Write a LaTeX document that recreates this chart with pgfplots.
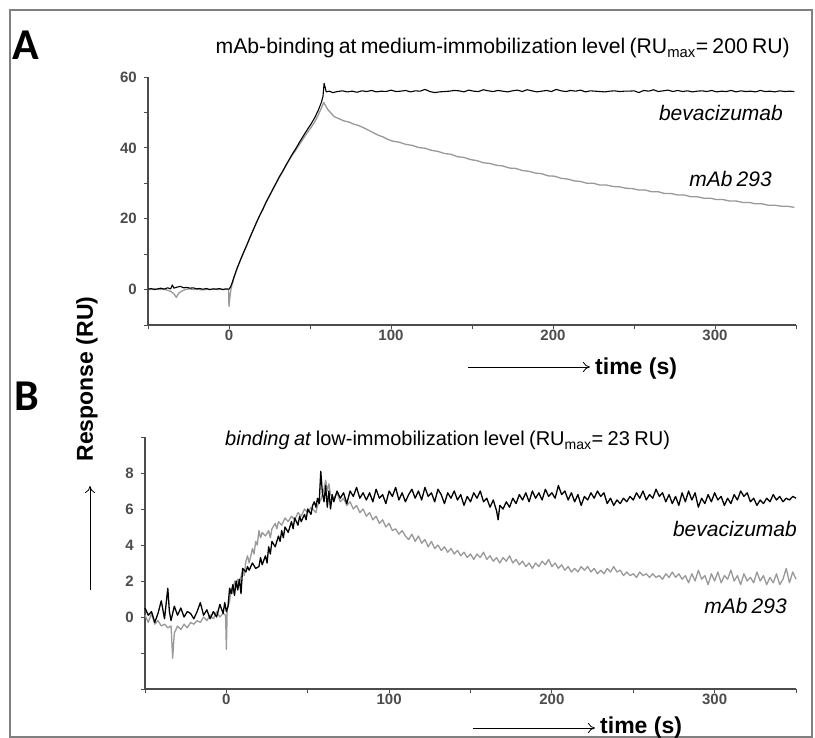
\documentclass[border=0pt]{standalone}
\usepackage{fontspec}
\setmainfont{Liberation Sans}
\newfontfamily\carlito{Carlito}
\usepackage{pgfplots}
\usetikzlibrary{arrows.meta}
\pgfplotsset{compat=1.18}
\definecolor{axgray}{gray}{0.3}
\definecolor{cgray}{gray}{0.6}
\newcommand{\tl}[1]{\textbf{#1}}
\newcommand{\tight}{\spaceskip=0.2em\relax}
\pgfplotsset{myax/.style={
  scale only axis, axis x line*=bottom, axis y line*=left,
  axis line style={axgray, line width=1.3pt, -},
  tick style={axgray, line width=1pt}, tick align=outside, major tick length=4pt,
  xmin=-50, xmax=350, xtick={-50,0,...,350}, xticklabels={,\tl{0},,\tl{100},,\tl{200},,\tl{300},},
  ticklabel style={font=\fontsize{15}{15}\selectfont, text=axgray},
  xticklabel style={inner sep=1pt},
  yticklabel style={inner sep=1pt, xshift=-6pt},
  clip=false}}
\begin{document}
\begin{tikzpicture}
\useasboundingbox (0,0) rectangle (815pt,-738pt);
\fill[white] (0,0) rectangle (815pt,-738pt);
\draw[gray, line width=1.2pt] (10pt,-737pt) -- (10pt,-10pt) -- (812pt,-10pt) -- (812pt,-737pt) -- cycle;

\begin{axis}[myax, at={(148pt,-325pt)}, anchor=south west, width=648pt, height=248pt,
  ymin=-10, ymax=60, ytick={-10,0,...,60}, yticklabels={,\tl{0},,\tl{20},,\tl{40},,\tl{60}}]
\addplot[cgray, line width=1.3pt, line join=round] coordinates {
(-50,0.1)(-48,0.0)(-46,0.2)(-44,0.1)(-42,0.0)(-40,0.2)(-38,-0.2)(-36,-0.5)(-34,-1.2)(-32.5,-2.2)(-31,-1.0)(-29,-0.4)(-27,0.0)(-25,0.2)(-23,0.1)(-21,0.0)(-19,0.1)(-17,-0.1)(-15,0.0)(-13,0.1)(-11,0.0)(-9,0.2)(-7,0.0)(-5,0.1)(-3,0.0)(-1,0.1)(-0.3,0.0)(0,-4.8)(0.7,-1.5)(1.4,0.6)(2.5,2.2)
(3,3.3)(5,6.0)(7,8.3)(9,10.4)(11,12.5)(13,14.7)(15,16.8)(17,18.9)(19,20.9)(21,22.7)(23,24.7)(25,26.4)(27,28.2)(29,29.9)(31,31.6)(33,33.2)(35,34.8)(37,36.4)(39,37.9)(41,39.2)(43,40.6)(45,42.0)(47,43.4)(49,44.7)(51,46.0)(53,47.4)(55,49.2)(57,51.2)(58.5,52.8)(59.5,52.0)(61,50.8)(63,49.8)(65,48.8)(68,48.2)(71,47.6)(74,47.3)(77,46.7)(80,46.3)(83,45.7)(86,45.0)(89,44.3)(92,43.6)(95,43.1)(98,42.4)(101,41.9)
(105,41.6)(109,41.0)(113,40.7)(117,40.1)(121,39.9)(125,39.3)(129,39.0)(133,38.4)(137,38.2)(141,37.5)(145,37.3)(149,36.7)(153,36.4)(157,35.8)(161,35.6)(165,35.1)(169,34.9)(173,34.3)(177,34.2)(181,33.6)(185,33.4)(189,32.9)(193,32.7)(197,32.1)(201,32.0)(205,31.4)(209,31.2)(213,30.7)(217,30.5)(221,30.0)(225,30.0)(229,29.5)(233,29.5)(237,29.1)(241,29.0)(245,28.6)(249,28.5)(253,28.1)(257,28.1)(261,27.6)(265,27.6)(269,27.1)(273,27.1)(277,26.7)(281,26.7)(285,26.2)(289,26.2)(293,25.8)(297,25.8)(301,25.4)(305,25.4)(309,25.0)(313,25.0)(317,24.6)(321,24.6)(325,24.2)(329,24.2)(333,23.8)(337,23.8)(341,23.5)(345,23.5)(349,23.2)};
\addplot[black, line width=1.1pt, line join=round] coordinates {
(-50,0.1)(-48,0.3)(-46,0.0)(-44,0.2)(-42,0.4)(-40,0.1)(-38,0.5)(-36,0.2)(-35,1.3)(-34,0.4)(-32,0.7)(-30,0.9)(-28,0.5)(-26,0.6)(-24,0.4)(-22,0.5)(-20,0.2)(-18,0.3)(-16,0.1)(-14,0.3)(-12,0.0)(-10,0.2)(-8,0.1)(-6,0.3)(-4,0.0)(-2,0.2)(0,0.1)
(1,0.8)(2,2.0)(3,3.4)(5,6.0)(7,8.3)(9,10.5)(11,12.6)(13,14.8)(15,16.9)(17,19.0)(19,21.0)(21,22.8)(23,24.8)(25,26.5)(27,28.3)(29,30.0)(31,31.8)(33,33.3)(35,35.0)(37,36.6)(39,38.2)(41,39.6)(43,41.2)(45,42.7)(47,44.2)(49,45.6)(51,47.0)(53,48.6)(55,50.5)(57,52.8)(58,54.5)(58.7,58.2)(59.4,57.0)(60,55.8)
(62,56.0)(64,55.6)(67,55.9)(70,56.1)(73,55.8)(76,56.0)(79,55.7)(82,56.1)(85,55.9)(88,56.2)(91,55.8)(94,56.0)(97,55.9)(100,56.3)(103,55.9)(106,56.0)(109,56.2)(112,55.8)(115,56.1)(118,56.0)(121,56.5)(124,55.9)(127,55.6)(130,55.8)(133,55.9)(136,56.0)(139,56.2)(142,56.1)(145,55.8)(148,56.3)(151,56.0)(154,55.9)(157,56.4)(160,56.1)(163,55.9)(166,56.2)(169,56.0)(172,55.8)(175,56.1)(178,56.3)(181,55.9)(184,56.4)(187,56.1)(190,55.8)(193,56.0)(196,56.2)(199,55.9)(202,56.5)(205,56.1)(208,55.9)(211,56.2)(214,56.0)(217,56.3)(220,55.8)(223,56.1)(226,56.0)(229,55.9)(232,55.8)(235,56.0)(238,56.1)(241,55.9)(244,56.0)(247,56.0)(250,56.1)(253,55.6)(256,56.2)(259,56.0)(262,56.4)(265,55.9)(268,56.1)(271,56.3)(274,55.9)(277,56.2)(280,55.9)(283,56.1)(286,55.8)(289,56.0)(292,56.1)(295,55.9)(298,56.2)(301,55.8)(304,56.0)(307,55.9)(310,56.2)(313,55.8)(316,56.1)(319,55.9)(322,56.0)(325,55.8)(328,56.2)(331,55.9)(334,56.0)(337,55.8)(340,56.1)(343,55.9)(346,56.0)(349,55.9)};
\end{axis}

\begin{axis}[myax, at={(145pt,-689pt)}, anchor=south west, width=651pt, height=252pt,
  ymin=-4, ymax=10, ytick={-4,-2,...,10}, yticklabels={,,\tl{0},\tl{2},\tl{4},\tl{6},\tl{8},}]
\addplot[cgray, line width=1.3pt, line join=round] coordinates {
(-50,0.1)(-48,-0.3)(-46,0.2)(-44,-0.4)(-42,-0.2)(-40,-0.5)(-38,-0.4)(-36,-0.6)(-34,-0.5)(-33,-2.3)(-32,-0.9)(-30,-0.5)(-28,-0.7)(-26,-0.4)(-24,-0.6)(-22,-0.3)(-20,-0.4)(-18,-0.2)(-16,-0.3)(-14,0.0)(-12,-0.2)(-10,0.1)(-8,-0.1)(-6,0.3)(-4,0.0)(-2,0.2)(-0.5,0.1)(0,-1.8)(0.5,0.4)
(2,0.9)(3,1.6)(4,1.3)(5,2.0)(6,1.7)(7,2.1)(8,1.9)(10,2.6)(11,2.3)(12,3.1)(13,3.4)(14,3.0)(16,3.8)(17,3.5)(18,4.2)(19,4.0)(20,4.8)(21,4.4)(22,4.7)(24,4.5)(26,4.8)(27,4.4)(28,4.9)(30,5.2)(31,4.9)(32,5.3)(34,5.1)(36,5.5)(38,5.3)(40,5.6)(42,5.4)(44,5.8)(46,5.6)(48,6.0)(50,5.8)(52,6.1)(54,5.9)(55,5.8)(56,6.2)(58,6.5)(60,7.1)(61,7.6)(62,7.0)(63,7.4)(64,6.8)(66,6.6)(68,6.9)(70,6.4)(72,6.6)(74,6.2)(76,6.4)(78,6.0)(80,6.2)(82,5.8)(84,6.0)(86,5.6)(88,5.8)(90,5.4)(92,5.6)(94,5.2)(96,5.4)(98,5.0)(100,5.2)
(102,4.8)(104,4.9)(106,4.6)(108,4.8)(110,4.5)(112,4.3)(114,4.6)(116,4.2)(118,4.5)(120,4.1)(122,4.3)(124,3.9)(126,4.2)(128,3.8)(130,4.0)(132,3.7)(134,3.9)(136,3.6)(138,3.8)(140,3.5)(142,3.7)(144,3.4)(146,3.6)(148,3.3)(150,3.5)(152,3.2)(154,3.5)(156,3.3)(158,3.6)(160,3.2)(162,3.4)(164,3.1)(166,3.3)(168,3.0)(170,3.3)(172,3.1)(174,3.4)(176,3.0)(178,3.2)(180,2.9)(182,3.1)(184,2.8)(186,3.0)(188,2.7)(190,3.0)(192,2.8)(194,3.1)(196,2.9)(198,3.2)(200,2.8)
(202,3.0)(204,2.7)(206,2.9)(208,2.6)(210,2.8)(212,2.5)(214,2.7)(216,2.5)(218,2.8)(220,2.6)(222,2.8)(224,2.5)(226,2.7)(228,2.4)(230,2.6)(232,2.4)(234,2.7)(236,2.5)(238,2.8)(240,2.5)(242,2.6)(244,2.3)(246,2.5)(248,2.3)(250,2.4)(252,2.2)(254,2.5)(256,2.3)(258,2.4)(260,2.2)(262,2.4)(264,2.2)(266,2.3)(268,2.1)(270,2.4)(272,2.2)(274,2.5)(276,2.2)(278,2.4)(280,2.1)(282,2.3)(284,1.9)(286,2.4)(288,2.0)(290,2.6)(292,2.1)(294,2.3)(296,1.8)(298,2.4)(300,2.0)
(302,2.5)(304,1.9)(306,2.3)(308,2.1)(310,2.6)(312,2.0)(314,2.3)(316,1.8)(318,2.4)(320,2.0)(322,2.2)(324,1.9)(326,2.5)(328,2.0)(330,2.3)(332,1.8)(334,2.2)(336,1.9)(338,2.4)(340,1.8)(342,2.1)(344,2.7)(346,1.9)(348,2.5)(350,2.1)};
\addplot[black, line width=1.3pt, line join=round] coordinates {
(-50,0.5)(-48,0.1)(-46,0.3)(-44,-0.3)(-42,0.2)(-40,0.9)(-38,-0.1)(-36,1.6)(-35,0.3)(-34,-0.2)(-32,0.6)(-30,0.1)(-28,0.5)(-26,0.0)(-24,0.3)(-22,0.2)(-20,-0.1)(-18,0.3)(-16,0.8)(-14,0.1)(-12,0.4)(-10,-0.1)(-8,0.3)(-6,0.0)(-4,0.7)(-2,0.2)(-1,0.8)(0,0.3)
(1,0.6)(2,1.6)(3,1.3)(4,1.8)(5,1.2)(6,2.0)(7,1.5)(8,2.1)(9,1.3)(10,2.7)(12,2.5)(13,2.8)(14,2.6)(16,3.0)(18,2.7)(20,2.8)(21,3.3)(22,2.9)(24,3.4)(25,3.0)(26,3.9)(27,3.5)(28,4.2)(30,3.9)(32,4.5)(33,4.2)(34,4.8)(35,4.4)(36,5.0)(38,4.7)(40,5.3)(41,4.9)(42,5.5)(44,5.1)(45,5.6)(46,5.3)(48,5.7)(49,5.4)(50,6.0)(52,5.7)(53,6.2)(54,6.4)(55,6.1)(56,6.6)(57,6.3)(58,8.1)(59,6.9)(60,6.4)(61,7.3)(62,6.1)(63,7.0)(64,6.0)(65,6.8)(66,6.4)(68,7.0)(70,6.6)(72,6.9)(74,6.3)(76,7.0)(78,6.7)(80,7.2)(82,6.6)(84,6.9)(86,6.5)
(88,6.9)(90,6.4)(92,7.1)(94,6.6)(96,6.8)(98,6.3)(100,7.0)(102,6.7)(104,7.2)(106,6.5)(108,6.9)(110,6.4)(112,6.8)(114,7.1)(116,6.6)(118,7.0)(120,6.5)(122,7.2)(124,6.7)(126,6.9)(128,6.4)(130,7.1)(132,6.8)(134,6.3)(136,6.9)(138,6.6)(140,7.0)(142,6.5)(144,6.8)(146,6.2)(148,6.7)(150,6.4)(152,6.9)(154,6.6)(156,7.0)(158,6.4)(160,6.6)(162,6.1)(164,6.5)(166,5.9)(167,5.4)(168,6.2)(170,6.0)(172,6.4)(174,6.1)(176,6.6)(178,6.3)(180,6.8)(182,6.5)(184,6.9)(186,6.4)(188,7.0)(190,6.6)(192,6.9)(194,6.5)(196,7.1)(198,6.7)(200,6.9)
(202,6.6)(204,7.3)(206,6.8)(208,7.0)(210,6.5)(212,6.9)(214,6.4)(216,6.8)(218,6.2)(220,6.7)(222,6.5)(224,6.9)(226,6.6)(228,7.0)(230,6.7)(232,6.9)(234,6.3)(236,6.6)(238,6.2)(240,6.5)(242,6.3)(244,6.6)(246,6.4)(248,6.7)(250,6.5)(252,6.9)(254,6.6)(256,7.0)(258,6.5)(260,6.8)(262,6.6)(264,7.1)(266,6.7)(268,6.9)(270,6.4)(272,6.8)(274,6.3)(276,6.7)(278,6.2)(280,6.9)(282,6.4)(284,7.0)(286,6.5)(288,6.9)(290,6.1)(292,6.6)(294,6.3)(296,6.8)(298,6.4)(300,6.9)
(302,6.5)(304,6.7)(306,6.2)(308,6.6)(310,6.3)(312,6.8)(314,6.5)(316,7.0)(318,6.7)(320,6.9)(322,6.4)(324,6.6)(326,6.2)(328,6.5)(330,6.3)(332,6.6)(334,6.4)(336,6.8)(338,6.5)(340,6.7)(342,6.4)(344,6.6)(346,6.5)(348,6.7)(350,6.6)};
\end{axis}

% panel letters
\node[anchor=base west, inner sep=0pt, font=\carlito\bfseries\fontsize{44}{44}\selectfont] at (12pt,-60pt) {A};
\node[anchor=base west, inner sep=0pt, font=\carlito\bfseries\fontsize{44}{44}\selectfont] at (14pt,-410pt) {B};
% titles
\node[anchor=base east, inner sep=0pt, font=\fontsize{21.2}{22}\selectfont] at (790pt,-54pt) {\tight mAb-binding at medium-immobilization level (RU\textsubscript{max}= 200 RU)};
\node[anchor=base west, inner sep=0pt, font=\fontsize{20}{20}\selectfont] at (225pt,-446pt) {\spaceskip=0.22em\relax\textit{binding at} low-immobilization level (RU\textsubscript{max}= 23 RU)};
% curve labels
\node[anchor=base east, inner sep=0pt, font=\itshape\fontsize{21}{21}\selectfont] at (783pt,-121pt) {bevacizumab};
\node[anchor=base east, inner sep=0pt, font=\itshape\fontsize{21}{21}\selectfont] at (772pt,-187pt) {\tight mAb 293};
\node[anchor=base east, inner sep=0pt, font=\itshape\fontsize{21}{21}\selectfont] at (797pt,-536pt) {bevacizumab};
\node[anchor=base east, inner sep=0pt, font=\itshape\fontsize{21}{21}\selectfont] at (787pt,-613pt) {\tight mAb 293};
% time labels
\draw[-{To[length=7pt,width=10pt]}, line width=0.8pt] (468pt,-367pt) -- (590pt,-367pt);
\node[anchor=base west, inner sep=0pt, font=\bfseries\fontsize{23}{23}\selectfont] at (595pt,-375pt) {time (s)};
\draw[-{To[length=7pt,width=10pt]}, line width=0.8pt] (473pt,-728pt) -- (595pt,-728pt);
\node[anchor=base west, inner sep=0pt, font=\bfseries\fontsize{23}{23}\selectfont] at (600pt,-733pt) {time (s)};
% response label
\draw[-{To[length=7pt,width=10pt]}, line width=0.8pt] (90pt,-590pt) -- (90pt,-486pt);
\node[rotate=90, anchor=center, inner sep=0pt, font=\bfseries\fontsize{23}{23}\selectfont] at (87pt,-379pt) {Response (RU)};
\end{tikzpicture}
\end{document}
